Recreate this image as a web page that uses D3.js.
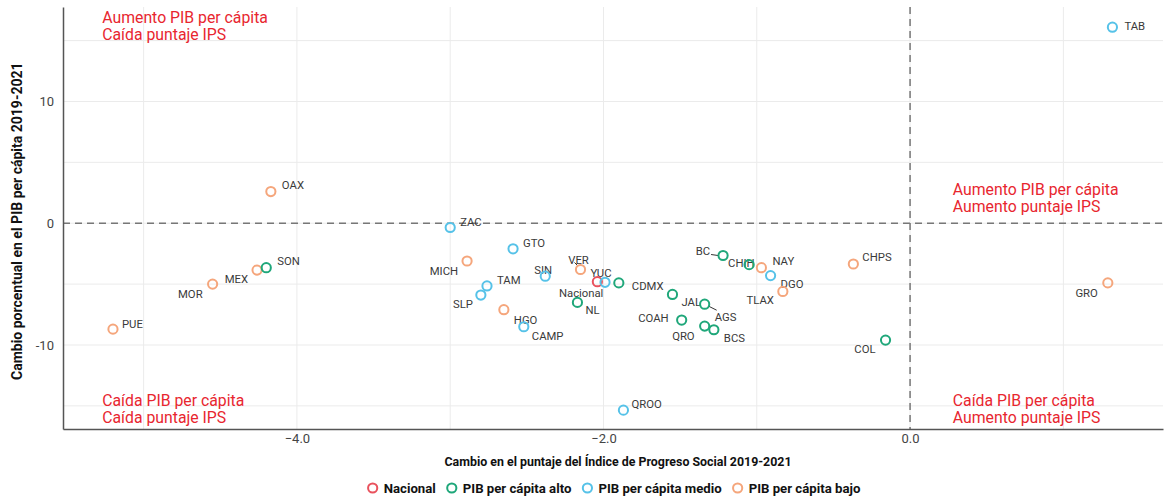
<!DOCTYPE html>
<html>
<head>
<meta charset="utf-8">
<script src="https://cdn.jsdelivr.net/npm/d3@7"></script>
<style>
  body { margin: 0; background: #fff; }
  svg text { font-family: "Roboto", "Liberation Sans", sans-serif; }
</style>
</head>
<body>
<div id="chart"></div>
<script>
// Data
const states = ["TAB", "OAX", "ZAC", "GTO", "MICH", "VER", "SIN", "TAM", "SLP", "HGO", "CAMP",
    "Nacional", "YUC", "CDMX", "NL", "JAL", "AGS", "COAH", "QRO", "BCS", "BC", "CHIH",
    "NAY", "DGO", "TLAX", "CHPS", "COL", "GRO", "QROO", "PUE", "MOR", "MEX", "SON"];
const ipsChange = [1.32, -4.17, -3.00, -2.59, -2.89, -2.15, -2.38, -2.76, -2.80, -2.65, -2.52,
    -2.04, -1.99, -1.90, -2.17, -1.55, -1.34, -1.49, -1.34, -1.28, -1.22, -1.05,
    -0.97, -0.91, -0.83, -0.37, -0.16, 1.29, -1.87, -5.20, -4.55, -4.26, -4.20];
const pibChange = [16.1, 2.6, -0.35, -2.1, -3.1, -3.8, -4.35, -5.15, -5.9, -7.1, -8.5,
    -4.8, -4.85, -4.9, -6.5, -5.85, -6.65, -7.95, -8.45, -8.75, -2.65, -3.4,
    -3.65, -4.3, -5.6, -3.35, -9.6, -4.9, -15.35, -8.7, -5.0, -3.85, -3.65];
const groups = ["medio", "bajo", "medio", "medio", "bajo", "bajo", "medio", "medio", "medio", "bajo", "medio",
    "nacional", "medio", "alto", "alto", "alto", "alto", "alto", "alto", "alto", "alto", "alto",
    "bajo", "medio", "bajo", "bajo", "alto", "bajo", "medio", "bajo", "bajo", "bajo", "alto"];

const groupKeys = ["nacional", "alto", "medio", "bajo"];
const groupNames = ["Nacional", "PIB per cápita alto", "PIB per cápita medio", "PIB per cápita bajo"];
const groupColors = ["#e9525d", "#1fa77a", "#56c2e8", "#f5a67c"];

const xTicks = [-4, -2, 0];
const yTicks = [-10, 0, 10];

// Label placement: [dx, dy, anchor, leader]
const labelPos = {
    TAB: [12, 3, "start"], OAX: [11, -3, "start"], ZAC: [10, -1, "start"], GTO: [10, -2, "start"],
    MICH: [-9, 14, "end"], VER: [-2, -6, "middle", true], SIN: [-2, -2, "middle"], TAM: [10, -2, "start"],
    SLP: [-8, 13, "end"], HGO: [10, 14, "start"], CAMP: [8, 13, "start"], Nacional: [6, 15, "end"],
    YUC: [-4, -5, "middle"], CDMX: [13, 7, "start"], NL: [8, 12, "start"], JAL: [9, 12, "start"],
    AGS: [10, 17, "start", true], COAH: [-13, 2, "end"], QRO: [-10, 14, "end"], BCS: [10, 12, "start"],
    BC: [-13, -1, "end", true], CHIH: [-21, 2, "start"], NAY: [11, -3, "start"], DGO: [10, 12, "start"],
    TLAX: [-9, 13, "end"], CHPS: [9, -3, "start"], COL: [-10, 13, "end"], GRO: [-10, 14, "end"],
    QROO: [8, -2, "start"], PUE: [9, -1, "start"], MOR: [-10, 14, "end"], MEX: [-9, 13, "end"],
    SON: [11, -3, "start"]
};

const points = states.map((s, i) => ({state: s, x: ipsChange[i], y: pibChange[i], group: groups[i]}));

const W = 1170, H = 498;
const margin = {top: 7, right: 7, bottom: 69, left: 63};
const width = W - margin.left - margin.right;
const height = H - margin.top - margin.bottom;

const svg = d3.select("#chart").append("svg")
    .attr("width", W)
    .attr("height", H);

const g = svg.append("g")
    .attr("transform", `translate(${margin.left},${margin.top})`);

const x = d3.scaleLinear().domain([-5.526, 1.65]).range([0, width]);
const y = d3.scaleLinear().domain([-16.9, 17.76]).range([height, 0]);
const color = d3.scaleOrdinal().domain(groupKeys).range(groupColors);

// Grid
g.append("g")
    .selectAll("line")
    .data(d3.range(-5, 2, 1))
    .enter().append("line")
    .attr("x1", d => x(d)).attr("x2", d => x(d))
    .attr("y1", 0).attr("y2", height)
    .attr("stroke", "#ebebeb").attr("stroke-width", 1);

g.append("g")
    .selectAll("line")
    .data(d3.range(-15, 20, 5))
    .enter().append("line")
    .attr("y1", d => y(d)).attr("y2", d => y(d))
    .attr("x1", 0).attr("x2", width)
    .attr("stroke", "#ebebeb").attr("stroke-width", 1);

// Zero lines
g.append("line")
    .attr("x1", x(0)).attr("x2", x(0)).attr("y1", 0).attr("y2", height)
    .attr("stroke", "#777").attr("stroke-width", 1.5).attr("stroke-dasharray", "7,5");
g.append("line")
    .attr("x1", 0).attr("x2", width).attr("y1", y(0)).attr("y2", y(0))
    .attr("stroke", "#777").attr("stroke-width", 1.5).attr("stroke-dasharray", "7,5");

// Axes
const xAxis = g.append("g")
    .attr("transform", `translate(0,${height})`)
    .call(d3.axisBottom(x).tickValues(xTicks).tickFormat(d3.format(".1f")).tickSize(0).tickPadding(5));
const yAxis = g.append("g")
    .call(d3.axisLeft(y).tickValues(yTicks).tickFormat(d => d).tickSize(0).tickPadding(9));
[xAxis, yAxis].forEach(a => {
    a.select(".domain").attr("stroke", "#555").attr("stroke-width", 1.5);
    a.selectAll("text").attr("fill", "#444").style("font-size", "13px");
});

// Quadrant notes
const notes = [
    [-5.27, 17, ["Aumento PIB per cápita", "Caída puntaje IPS"]],
    [0.279, 189, ["Aumento PIB per cápita", "Aumento puntaje IPS"]],
    [-5.27, 400, ["Caída PIB per cápita", "Caída puntaje IPS"]],
    [0.279, 400, ["Caída PIB per cápita", "Aumento puntaje IPS"]]
];
notes.forEach(n => {
    n[2].forEach((line, i) => {
        svg.append("text")
            .attr("x", margin.left + x(n[0]))
            .attr("y", n[1] + i * 17 + 6)
            .attr("fill", "#e8262f")
            .style("font-size", "15.8px")
            .text(line);
    });
});

// Leader lines
g.append("g")
    .selectAll("line")
    .data(points.filter(d => labelPos[d.state][3]))
    .enter().append("line")
    .attr("x1", d => x(d.x) + (d.state === "BC" ? -5 : d.state === "VER" ? -3 : 4))
    .attr("y1", d => y(d.y) + (d.state === "BC" ? 0 : d.state === "VER" ? -4 : 2))
    .attr("x2", d => x(d.x) + (d.state === "BC" ? -12 : d.state === "VER" ? -6 : 12))
    .attr("y2", d => y(d.y) + (d.state === "BC" ? -1 : d.state === "VER" ? -7 : 6))
    .attr("stroke", "#333").attr("stroke-width", 1);

// Labels
g.append("g")
    .selectAll("text")
    .data(points)
    .enter().append("text")
    .attr("x", d => x(d.x) + labelPos[d.state][0])
    .attr("y", d => y(d.y) + labelPos[d.state][1])
    .attr("text-anchor", d => labelPos[d.state][2])
    .attr("fill", "#3a3a3a")
    .style("font-size", "11.3px")
    .text(d => d.state);

// Points
g.append("g")
    .selectAll("circle")
    .data(points)
    .enter().append("circle")
    .attr("cx", d => x(d.x))
    .attr("cy", d => y(d.y))
    .attr("r", 4.6)
    .attr("fill", "none")
    .attr("stroke", d => color(d.group))
    .attr("stroke-width", 2);

// Axis titles
svg.append("text")
    .attr("x", 618)
    .attr("y", 466)
    .attr("text-anchor", "middle")
    .attr("fill", "#111")
    .style("font-size", "12.4px")
    .style("font-weight", "bold")
    .text("Cambio en el puntaje del Índice de Progreso Social 2019-2021");

svg.append("text")
    .attr("transform", `translate(22,${margin.top + y(0) - 2}) rotate(-90)`)
    .attr("text-anchor", "middle")
    .attr("fill", "#111")
    .style("font-size", "14px")
    .style("font-weight", "bold")
    .text("Cambio porcentual en el PIB per cápita 2019-2021");

// Legend
const legend = svg.append("g").attr("transform", "translate(0,488)");
let lx = 0;
const items = [];
groupKeys.forEach((k, i) => {
    const item = legend.append("g");
    item.append("circle")
        .attr("cx", 5).attr("cy", 0).attr("r", 4.6)
        .attr("fill", "none").attr("stroke", color(k)).attr("stroke-width", 2);
    const t = item.append("text")
        .attr("x", 16).attr("y", 5)
        .attr("fill", "#111")
        .style("font-size", "13.2px")
        .style("font-weight", "bold")
        .text(groupNames[i]);
    const w = 16 + t.node().getComputedTextLength();
    items.push({item, w});
});
const gap = 11;
const total = d3.sum(items, d => d.w) + gap * (items.length - 1);
lx = 614 - total / 2;
items.forEach(d => {
    d.item.attr("transform", `translate(${lx},0)`);
    lx += d.w + gap;
});
</script>
</body>
</html>
